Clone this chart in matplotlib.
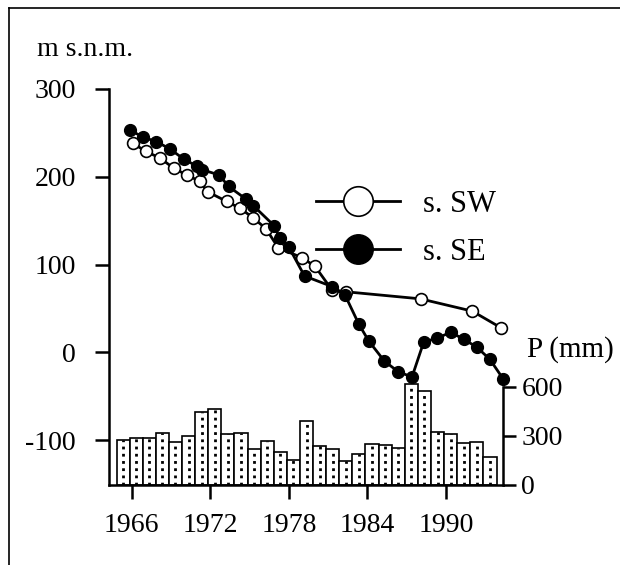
import matplotlib
matplotlib.use('Agg')
import matplotlib.pyplot as plt
from matplotlib.lines import Line2D

plt.rcParams['font.family'] = ['Liberation Serif', 'DejaVu Serif']
plt.rcParams['axes.unicode_minus'] = False

# piezometric level, s. SE (filled circles)
se_year = [1965.9, 1966.9, 1967.9, 1968.9, 1970.0, 1971.0, 1971.4, 1972.7, 1973.4,
           1974.7, 1975.3, 1976.9, 1977.3, 1978.0, 1979.2, 1981.3, 1982.3, 1983.35,
           1984.1, 1985.3, 1986.35, 1987.4, 1988.3, 1989.3, 1990.35, 1991.35,
           1992.35, 1993.35, 1994.35]
se_level = [253, 245, 240, 232, 220, 212, 208, 202, 189,
            175, 167, 144, 130, 120, 87, 75, 65, 32,
            13, -10, -22, -28, 12, 16, 23, 15,
            6, -8, -30]

# piezometric level, s. SW (open circles)
sw_year = [1966.1, 1967.1, 1968.2, 1969.2, 1970.2, 1971.2, 1971.8, 1973.25, 1974.3,
           1975.3, 1976.25, 1977.2, 1979.0, 1980.0, 1981.3, 1982.4, 1988.05,
           1992.0, 1994.2]
sw_level = [238, 229, 221, 210, 202, 195, 183, 172, 164,
            153, 141, 119, 108, 98, 71, 69, 61,
            47, 28]

# annual precipitation P (mm)
p_year = list(range(1965, 1994))
p_mm = [275, 290, 285, 316, 265, 300, 449, 465, 312, 320,
        220, 271, 204, 153, 392, 239, 218, 147, 188, 249,
        245, 224, 618, 576, 327, 312, 259, 265, 173]

fs = 20

fig = plt.figure(figsize=(6.2, 5.65), dpi=100)
ax = fig.add_axes([0.1763, 0.1416, 0.6355, 0.7009])
ax2 = ax.twinx()

# bars on the right (precipitation) axis
bx = [y + 0.35 for y in p_year]
ax2.bar(bx, p_mm, width=1.0, color='white', edgecolor='black', linewidth=1.2, zorder=1)
ax2.vlines(bx, 0, p_mm, colors='black', linestyles=(0, (1, 1.6)), linewidth=2.0, zorder=2)
ax2.set_ylim(0, 2424)
ax2.set_yticks([0, 300, 600])
ax2.spines['right'].set_bounds(0, 600)
for s in ['top', 'left', 'bottom']:
    ax2.spines[s].set_visible(False)
ax2.spines['right'].set_linewidth(1.8)
ax2.tick_params(axis='y', direction='out', length=9, width=1.8, labelsize=fs, pad=4)

# lines on the left axis, drawn above the bars
ax.set_zorder(ax2.get_zorder() + 1)
ax.patch.set_visible(False)
ax.plot(sw_year, sw_level, '-o', color='black', mfc='white', mec='black', ms=8.5,
        mew=1.2, lw=2.0, clip_on=False, label='s. SW')
ax.plot(se_year, se_level, '-o', color='black', mfc='black', mec='black', ms=8.5,
        lw=2.0, clip_on=False, label='s. SE')

ax.set_xlim(1964.3, 1994.37)
ax.set_ylim(-151, 300)
ax.set_xticks([1966, 1972, 1978, 1984, 1990])
ax.set_yticks([300, 200, 100, 0, -100])
for s in ['top', 'right']:
    ax.spines[s].set_visible(False)
for s in ['left', 'bottom']:
    ax.spines[s].set_linewidth(1.8)
ax.tick_params(direction='out', length=10, width=1.8, labelsize=fs)
ax.tick_params(axis='y', pad=14)
ax.tick_params(axis='x', pad=10)

leg = ax.legend(loc='upper left', bbox_to_anchor=(0.455, 0.815), frameon=False,
                fontsize=22, markerscale=2.5, handlelength=2.75, labelspacing=0.62,
                handletextpad=0.75)

fig.text(37 / 620, 1 - 50 / 565, 'm s.n.m.', fontsize=fs, ha='left', va='center')
fig.text(527 / 620, 1 - 350 / 565, 'P (mm)', fontsize=fs + 1, ha='left', va='center')

# outer frame (top and left edges)
fig.add_artist(Line2D([9 / 620, 9 / 620], [0, 1 - 8 / 565], transform=fig.transFigure,
                      color='black', lw=1.2))
fig.add_artist(Line2D([9 / 620, 1], [1 - 8 / 565, 1 - 8 / 565], transform=fig.transFigure,
                      color='black', lw=1.2))

fig.savefig('out.png', dpi=100)
